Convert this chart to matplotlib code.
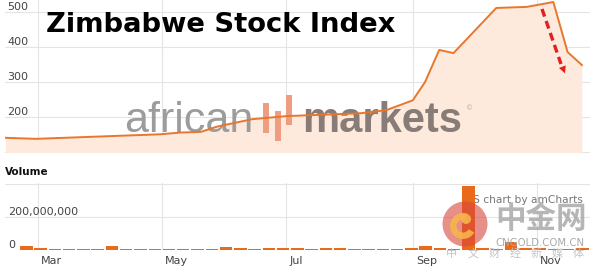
import matplotlib
matplotlib.use('Agg')
import matplotlib.pyplot as plt
import matplotlib.dates as mdates
import matplotlib.transforms as mtransforms
from matplotlib.patches import Rectangle, Circle, Wedge
from matplotlib.lines import Line2D
import pandas as pd

# ---------------- data ----------------
index_dates = ['2017-02-13', '2017-02-28', '2017-04-30', '2017-05-10', '2017-05-20',
               '2017-05-28', '2017-06-14', '2017-07-01', '2017-08-06', '2017-08-19',
               '2017-09-01', '2017-09-07', '2017-09-14', '2017-09-21', '2017-10-12',
               '2017-10-27', '2017-11-09', '2017-11-16', '2017-11-23']
index_values = [142, 139, 152, 157, 159, 174, 195, 204, 212, 221,
                249, 301, 393, 384, 513, 516, 530, 387, 350]

volume_first_week = '2017-02-23 08:00'
volume_millions = [22, 11, 7, 7, 7, 9, 22, 7, 9, 7,
                   9, 7, 9, 7, 16, 11, 7, 11, 11, 11,
                   7, 13, 13, 7, 7, 7, 7, 11, 25, 13,
                   8, 390, 11, 7, 48, 11, 11, 7, 7, 13]

month_ticks = ['2017-03-01', '2017-05-01', '2017-07-01', '2017-09-01', '2017-11-01']
price_ticks = [100, 200, 300, 400, 500]
price_tick_labels = ['100', '200', '300', '400', '500']
volume_ticks = [0, 200e6, 400e6]
volume_tick_labels = ['0', '200,000,000', '']
x_range = ['2017-02-12 20:00', '2017-11-27 00:00']

title = 'Zimbabwe Stock Index'

# ---------------- layout helpers ----------------
W, H = 600, 274
fig = plt.figure(figsize=(6, 2.74), dpi=100)
fig.patch.set_facecolor('white')

def fx(px):
    return px / W

def fy(py):
    return 1 - py / H

line_color = '#e8762c'
fill_color = '#fdeadd'
bar_color = '#ea6a1c'
grid_color = '#e4e4e4'
tick_color = '#444444'

xd = pd.to_datetime(index_dates)
vd = pd.date_range(volume_first_week, periods=len(volume_millions), freq='7D')
mt = pd.to_datetime(month_ticks)
xl = pd.to_datetime(x_range)

# ---------------- price panel ----------------
ax1 = fig.add_axes([fx(5), fy(152.5), fx(585), 152.5 / H])
ax1.fill_between(xd, index_values, 100, color=fill_color, lw=0, zorder=1)
ax1.plot(xd, index_values, color=line_color, lw=1.4, zorder=2.5)
ax1.set_xlim(xl[0], xl[1])
ax1.set_ylim(100, 535.7)
ax1.set_xticks(mt)
ax1.set_xticklabels([])
ax1.set_yticks(price_ticks)
ax1.set_yticklabels(price_tick_labels)
ax1.tick_params(axis='both', length=0)
ax1.tick_params(axis='y', pad=-1.5, labelsize=8, labelcolor=tick_color)
for lab in ax1.get_yticklabels():
    lab.set_ha('left')
    lab.set_va('bottom')
ax1.grid(True, color=grid_color, lw=0.8, zorder=0)
ax1.set_axisbelow(True)
for s in ax1.spines.values():
    s.set_visible(False)

# watermark "african markets"
ax1.text(fx(124), fy(132), 'african', transform=fig.transFigure, fontsize=31,
         family='Liberation Sans', color='#9c9c9c', va='baseline', ha='left', zorder=1.6)
ax1.text(fx(302), fy(132), 'markets', transform=fig.transFigure, fontsize=30,
         family='Liberation Sans', fontweight='bold', color='#877c77', va='baseline',
         ha='left', zorder=1.6)
ax1.text(fx(470), fy(108), '©', transform=fig.transFigure, fontsize=5,
         color='#aaaaaa', va='center', ha='center', zorder=1.6)
for (x0, y0, x1, y1) in [(263, 103, 269, 133), (275, 111, 281, 141), (286, 95, 292, 125)]:
    ax1.add_patch(Rectangle((fx(x0), fy(y1)), fx(x1 - x0), (y1 - y0) / H,
                            transform=fig.transFigure, color='#ef9d82', lw=0,
                            zorder=1.7, clip_on=False))

# title
fig.text(fx(46), fy(31.7), title, fontsize=19.7, fontweight='bold', color='black',
         va='baseline', ha='left', zorder=5)

# red dashed arrow
fig.add_artist(Line2D([fx(542), fx(561)], [fy(9), fy(64)], color='#e1201f', lw=2.4,
                      dashes=[2.4, 1.4], zorder=6))
fig.add_artist(matplotlib.patches.FancyArrowPatch(
    (fx(559), fy(58)), (fx(566), fy(76)), transform=fig.transFigure,
    arrowstyle='-|>', mutation_scale=13, color='#e1201f', lw=0, zorder=6))

# ---------------- volume panel ----------------
ax2 = fig.add_axes([fx(5), fy(250), fx(585), 67 / H])
ax2.bar(vd, [v * 1e6 for v in volume_millions], width=6.1, color=bar_color, lw=0, zorder=2)
ax2.set_xlim(xl[0], xl[1])
ax2.set_ylim(0, 406e6)
ax2.set_yticks(volume_ticks)
ax2.set_yticklabels(volume_tick_labels)
ax2.set_xticks(mt)
ax2.xaxis.set_major_formatter(mdates.DateFormatter('%b'))
ax2.tick_params(axis='both', length=0)
ax2.tick_params(axis='y', pad=-2, labelsize=8, labelcolor=tick_color)
ax2.tick_params(axis='x', pad=4, labelsize=8, labelcolor=tick_color)
for lab in ax2.get_yticklabels():
    lab.set_ha('left')
    lab.set_va('bottom')
offset = mtransforms.ScaledTranslation(3 / 100, 0, fig.dpi_scale_trans)
for lab in ax2.get_xticklabels():
    lab.set_ha('left')
    lab.set_transform(lab.get_transform() + offset)
ax2.grid(True, color=grid_color, lw=0.8, zorder=0)
ax2.set_axisbelow(True)
for s in ax2.spines.values():
    s.set_visible(False)

fig.text(fx(5), fy(172), 'Volume', fontsize=7.5, fontweight='bold', color='#111111',
         va='center', ha='left')

ax2.text(fx(471), fy(200), 'JS chart by amCharts', transform=fig.transFigure,
         fontsize=7.7, color='#777777', va='center', ha='left', zorder=1.8)

# ---------------- cngold watermark ----------------
fig.add_artist(Circle((4.65, (H - 224) / 100), 0.225, transform=fig.dpi_scale_trans,
                      color='#d8453b', alpha=0.6, lw=0, zorder=7))
fig.add_artist(Wedge((4.63, (H - 226) / 100), 0.13, 70, 330, width=0.065,
                     transform=fig.dpi_scale_trans, color='#f7b54a', alpha=0.9,
                     lw=0, zorder=7.1))
fig.add_artist(Circle((4.66, (H - 219) / 100), 0.05, transform=fig.dpi_scale_trans,
                      color='#f7b54a', alpha=0.9, lw=0, zorder=7.1))
fig.text(fx(541), fy(219), '中金网', fontsize=22, fontweight='bold',
         family=['Noto Sans CJK SC', 'DejaVu Sans'], color='#a9a9a9', alpha=0.85,
         ha='center', va='center', zorder=7)
fig.text(fx(540), fy(243), 'CNGOLD.COM.CN', fontsize=7.3, color='#a8a8a8',
         ha='center', va='center', zorder=7)
for k, ch in enumerate('中文财经新媒体'):
    fig.text(fx(452 + 21 * k), fy(254), ch, fontsize=8,
             family=['Noto Sans CJK SC', 'DejaVu Sans'], color='#c4c4c4',
             ha='center', va='center', zorder=7)

fig.savefig('out.png', dpi=100, facecolor='white')
